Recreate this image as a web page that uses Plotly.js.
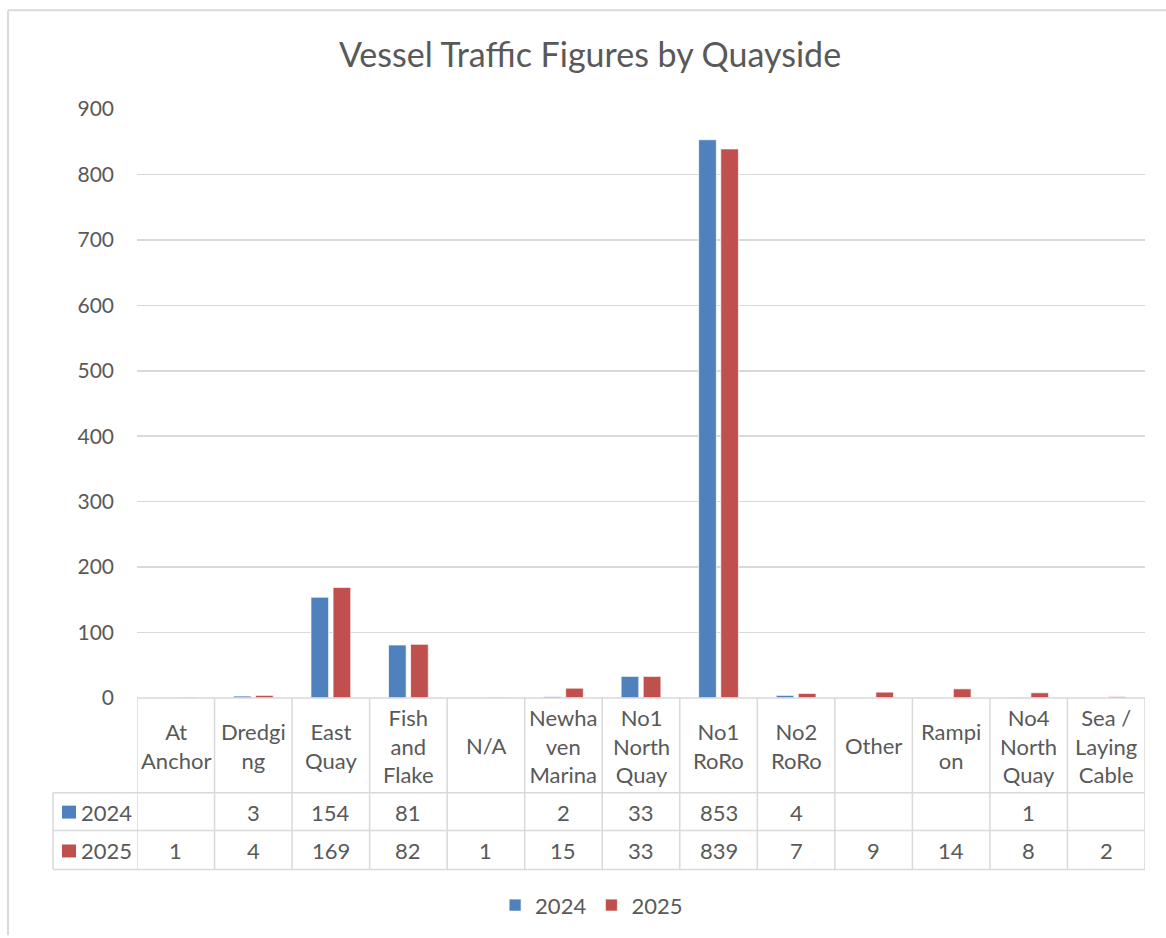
<!DOCTYPE html>
<html>
<head>
<meta charset="utf-8">
<script src="https://cdn.plot.ly/plotly-3.0.1.min.js"></script>
<style>html,body{margin:0;padding:0;background:#fff;}#chart{width:1166px;height:938px;}</style>
</head>
<body>
<div id="chart"></div>
<script>
const categories = ["At Anchor","Dredging","East Quay","Fish and Flake","N/A","Newhaven Marina","No1 North Quay","No1 RoRo","No2 RoRo","Other","Rampion","No4 North Quay","Sea / Laying Cable"];
const headerLabels = ["At<br>Anchor","Dredgi<br>ng","East<br>Quay","Fish<br>and<br>Flake","N/A","Newha<br>ven<br>Marina","No1<br>North<br>Quay","No1<br>RoRo","No2<br>RoRo","Other","Rampi<br>on","No4<br>North<br>Quay","Sea /<br>Laying<br>Cable"];
const values2024 = [null,3,154,81,null,2,33,853,4,null,null,1,null];
const values2025 = [1,4,169,82,1,15,33,839,7,9,14,8,2];
const seriesNames = ["2024","2025"];
const yTicks = [0,100,200,300,400,500,600,700,800,900];

const BLUE = "#4F81BD", RED = "#C0504D", TXT = "#595959", GRID = "#D9D9D9";
const FONT = "Lato, 'Open Sans', sans-serif";

// pixel helpers for the plot frame (margins l=137, t=109, plot 1008x591)
const L = 137, T = 109, W = 1008, H = 591;
const px = x => (x - L) / W;
const py = y => (T + H - y) / H;

const traces = [
  {type:"bar", name:seriesNames[0], x:categories, y:values2024,
   marker:{color:BLUE, line:{color:"rgba(255,255,255,0.7)", width:1}}, hoverinfo:"x+y+name"},
  {type:"bar", name:seriesNames[1], x:categories, y:values2025,
   marker:{color:RED, line:{color:"rgba(255,255,255,0.7)", width:1}}, hoverinfo:"x+y+name"}
];

const shapes = [];
const annotations = [];
const lineStyle = {color:GRID, width:1.5};

// chart border
shapes.push({type:"line", xref:"paper", yref:"paper", x0:px(8), x1:px(1166), y0:py(10), y1:py(10), line:{color:GRID, width:2}});
shapes.push({type:"line", xref:"paper", yref:"paper", x0:px(8), x1:px(8), y0:py(10), y1:py(938), line:{color:GRID, width:2}});

// table horizontal lines
shapes.push({type:"line", xref:"paper", yref:"paper", x0:px(137), x1:px(1145), y0:py(700), y1:py(700), line:lineStyle});
[795, 833, 872].forEach(y => shapes.push({type:"line", xref:"paper", yref:"paper", x0:px(53), x1:px(1145), y0:py(y), y1:py(y), line:lineStyle}));
// table vertical lines at category boundaries
for (let i = 0; i <= categories.length; i++) {
  shapes.push({type:"line", xref:"x", yref:"paper", x0:i-0.5, x1:i-0.5, y0:py(700), y1:py(872), line:lineStyle});
}
shapes.push({type:"line", xref:"paper", yref:"paper", x0:px(53), x1:px(53), y0:py(795), y1:py(872), line:lineStyle});

// legend keys in table
shapes.push({type:"rect", xref:"paper", yref:"paper", x0:px(62), x1:px(76), y0:py(808), y1:py(821), fillcolor:BLUE, line:{width:0}});
shapes.push({type:"rect", xref:"paper", yref:"paper", x0:px(62), x1:px(76), y0:py(847), y1:py(860), fillcolor:RED, line:{width:0}});

const tf = {family:FONT, size:22, color:TXT};
categories.forEach((c, i) => {
  annotations.push({xref:"x", yref:"paper", x:c, y:py(748), text:headerLabels[i], showarrow:false, font:tf, align:"center", yanchor:"middle"});
  if (values2024[i] !== null) annotations.push({xref:"x", yref:"paper", x:c, y:py(814.5), text:String(values2024[i]), showarrow:false, font:tf, yanchor:"middle"});
  if (values2025[i] !== null) annotations.push({xref:"x", yref:"paper", x:c, y:py(853), text:String(values2025[i]), showarrow:false, font:tf, yanchor:"middle"});
});
annotations.push({xref:"paper", yref:"paper", x:px(79), y:py(814.5), text:seriesNames[0], showarrow:false, font:tf, xanchor:"left", yanchor:"middle"});
annotations.push({xref:"paper", yref:"paper", x:px(79), y:py(853), text:seriesNames[1], showarrow:false, font:tf, xanchor:"left", yanchor:"middle"});

const layout = {
  width:1166, height:938,
  margin:{l:L, r:1166-L-W, t:T, b:938-T-H},
  paper_bgcolor:"#fff", plot_bgcolor:"#fff",
  title:{text:"Vessel Traffic Figures by Quayside", font:{family:FONT, size:34, color:TXT}, x:590/1166, xanchor:"center", xref:"container", y:1-55/938, yanchor:"middle", yref:"container"},
  barmode:"group", bargap:0.43, bargroupgap:0.2,
  xaxis:{type:"category", range:[-0.5, categories.length-0.5], showticklabels:false, ticks:"", showgrid:false, zeroline:false, showline:false, fixedrange:true},
  yaxis:{range:[0,900], tickvals:yTicks, ticktext:yTicks.map(String), tickfont:{family:FONT, size:21, color:TXT}, showgrid:true, gridcolor:GRID, gridwidth:1.5, zeroline:false, showline:false, ticks:"", ticklabelstandoff:22, fixedrange:true},
  showlegend:true,
  legend:{orientation:"h", x:0.451, xanchor:"center", y:py(908), yanchor:"middle", font:{family:FONT, size:22, color:TXT}, itemwidth:30, tracegroupgap:0},
  shapes:shapes, annotations:annotations
};

Plotly.newPlot("chart", traces, layout, {displayModeBar:false, staticPlot:true});
</script>
</body>
</html>
